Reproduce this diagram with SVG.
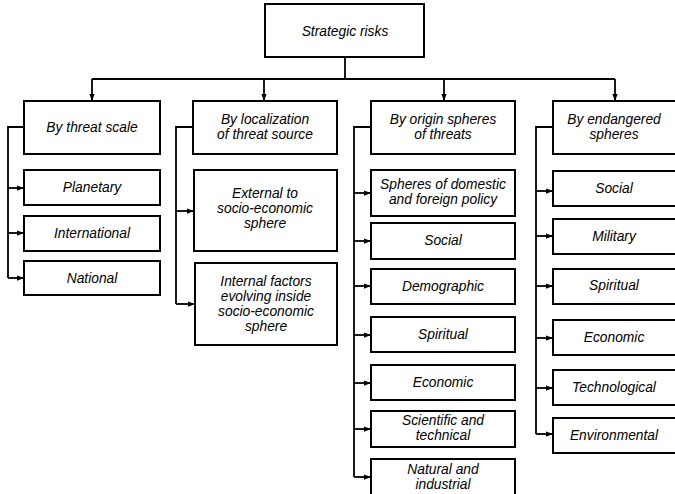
<svg xmlns="http://www.w3.org/2000/svg" width="675" height="494" viewBox="0 0 675 494">
<defs>
<style>
.box{fill:#fff;stroke:#000;stroke-width:2}
.t{font-family:"Liberation Sans",Arial,sans-serif;font-style:italic;font-size:13.8px;fill:#000;text-anchor:middle}
.c{fill:none;stroke:#000;stroke-width:1.8}
</style>
<marker id="ah" viewBox="0 0 8 6" refX="8" refY="3" markerWidth="7" markerHeight="6" markerUnits="userSpaceOnUse" orient="auto">
<path d="M0,0 L8,3 L0,6 z" fill="#000"/>
</marker>
</defs>
<rect width="675" height="494" fill="#fff"/>
<g id="connectors">
<polyline class="c" points="345,57 345,79"/>
<polyline class="c" points="92,79 615,79"/>
<line class="c" x1="92" y1="79" x2="92" y2="101" marker-end="url(#ah)"/>
<line class="c" x1="264" y1="79" x2="264" y2="101" marker-end="url(#ah)"/>
<line class="c" x1="444" y1="79" x2="444" y2="101" marker-end="url(#ah)"/>
<line class="c" x1="615" y1="79" x2="615" y2="101" marker-end="url(#ah)"/>
<polyline class="c" points="24,127 8,127 8,278"/>
<line class="c" x1="8" y1="188" x2="24" y2="188" marker-end="url(#ah)"/>
<line class="c" x1="8" y1="233" x2="24" y2="233" marker-end="url(#ah)"/>
<line class="c" x1="8" y1="278" x2="24" y2="278" marker-end="url(#ah)"/>
<polyline class="c" points="193,127 176,127 176,304"/>
<line class="c" x1="176" y1="211" x2="194" y2="211" marker-end="url(#ah)"/>
<line class="c" x1="176" y1="304" x2="195" y2="304" marker-end="url(#ah)"/>
<polyline class="c" points="371,127 354,127 354,477"/>
<line class="c" x1="354" y1="193" x2="371" y2="193" marker-end="url(#ah)"/>
<line class="c" x1="354" y1="241" x2="371" y2="241" marker-end="url(#ah)"/>
<line class="c" x1="354" y1="286" x2="371" y2="286" marker-end="url(#ah)"/>
<line class="c" x1="354" y1="335" x2="371" y2="335" marker-end="url(#ah)"/>
<line class="c" x1="354" y1="383" x2="371" y2="383" marker-end="url(#ah)"/>
<line class="c" x1="354" y1="429" x2="371" y2="429" marker-end="url(#ah)"/>
<line class="c" x1="354" y1="477" x2="371" y2="477" marker-end="url(#ah)"/>
<polyline class="c" points="553,127 536,127 536,434"/>
<line class="c" x1="536" y1="191" x2="553" y2="191" marker-end="url(#ah)"/>
<line class="c" x1="536" y1="236" x2="553" y2="236" marker-end="url(#ah)"/>
<line class="c" x1="536" y1="286" x2="553" y2="286" marker-end="url(#ah)"/>
<line class="c" x1="536" y1="338" x2="553" y2="338" marker-end="url(#ah)"/>
<line class="c" x1="536" y1="388" x2="553" y2="388" marker-end="url(#ah)"/>
<line class="c" x1="536" y1="434" x2="553" y2="434" marker-end="url(#ah)"/>
</g>
<g id="root"><rect class="box" x="265" y="4" width="159" height="53"/><text class="t" x="345" y="36">Strategic risks</text></g>
<g id="threat-scale"><rect class="box" x="24" y="101" width="136" height="53"/><text class="t" x="92" y="132">By threat scale</text></g>
<g id="localization"><rect class="box" x="193" y="101" width="144" height="53"/><text class="t" x="265" y="124">By localization</text><text class="t" x="265" y="139">of threat source</text></g>
<g id="origin"><rect class="box" x="371" y="101" width="144" height="53"/><text class="t" x="443" y="124">By origin spheres</text><text class="t" x="443" y="139">of threats</text></g>
<g id="endangered"><rect class="box" x="553" y="101" width="130" height="53"/><text class="t" x="614" y="124">By endangered</text><text class="t" x="614" y="139">spheres</text></g>

<g id="planetary"><rect class="box" x="24" y="170" width="136" height="35"/><text class="t" x="92" y="192">Planetary</text></g>
<g id="international"><rect class="box" x="24" y="216" width="136" height="35"/><text class="t" x="92" y="238">International</text></g>
<g id="national"><rect class="box" x="24" y="261" width="136" height="34"/><text class="t" x="92" y="283">National</text></g>

<g id="external"><rect class="box" x="194" y="170" width="143" height="81"/><text class="t" x="265" y="198">External to</text><text class="t" x="265" y="213">socio-economic</text><text class="t" x="265" y="228">sphere</text></g>
<g id="internal"><rect class="box" x="195" y="263" width="142" height="82"/><text class="t" x="266" y="286">Internal factors</text><text class="t" x="266" y="301">evolving inside</text><text class="t" x="266" y="316">socio-economic</text><text class="t" x="266" y="331">sphere</text></g>

<g id="o-policy"><rect class="box" x="371" y="170" width="144" height="46"/><text class="t" x="443" y="189">Spheres of domestic</text><text class="t" x="443" y="204">and foreign policy</text></g>
<g id="o-social"><rect class="box" x="371" y="223" width="144" height="36"/><text class="t" x="443" y="245">Social</text></g>
<g id="o-demographic"><rect class="box" x="371" y="269" width="144" height="35"/><text class="t" x="443" y="291">Demographic</text></g>
<g id="o-spiritual"><rect class="box" x="371" y="317" width="144" height="35"/><text class="t" x="443" y="339">Spiritual</text></g>
<g id="o-economic"><rect class="box" x="371" y="365" width="144" height="35"/><text class="t" x="443" y="387">Economic</text></g>
<g id="o-scientific"><rect class="box" x="371" y="411" width="144" height="36"/><text class="t" x="443" y="425">Scientific and</text><text class="t" x="443" y="440">technical</text></g>
<g id="o-natural"><rect class="box" x="371" y="459" width="144" height="45"/><text class="t" x="443" y="474">Natural and</text><text class="t" x="443" y="489">industrial</text></g>

<g id="e-social"><rect class="box" x="553" y="171" width="130" height="35"/><text class="t" x="614" y="193">Social</text></g>
<g id="e-military"><rect class="box" x="553" y="219" width="130" height="35"/><text class="t" x="614" y="241">Military</text></g>
<g id="e-spiritual"><rect class="box" x="553" y="269" width="130" height="35"/><text class="t" x="614" y="290">Spiritual</text></g>
<g id="e-economic"><rect class="box" x="553" y="320" width="130" height="35"/><text class="t" x="614" y="342">Economic</text></g>
<g id="e-technological"><rect class="box" x="553" y="370" width="130" height="35"/><text class="t" x="614" y="392">Technological</text></g>
<g id="e-environmental"><rect class="box" x="553" y="418" width="130" height="35"/><text class="t" x="614" y="440">Environmental</text></g>
</svg>
